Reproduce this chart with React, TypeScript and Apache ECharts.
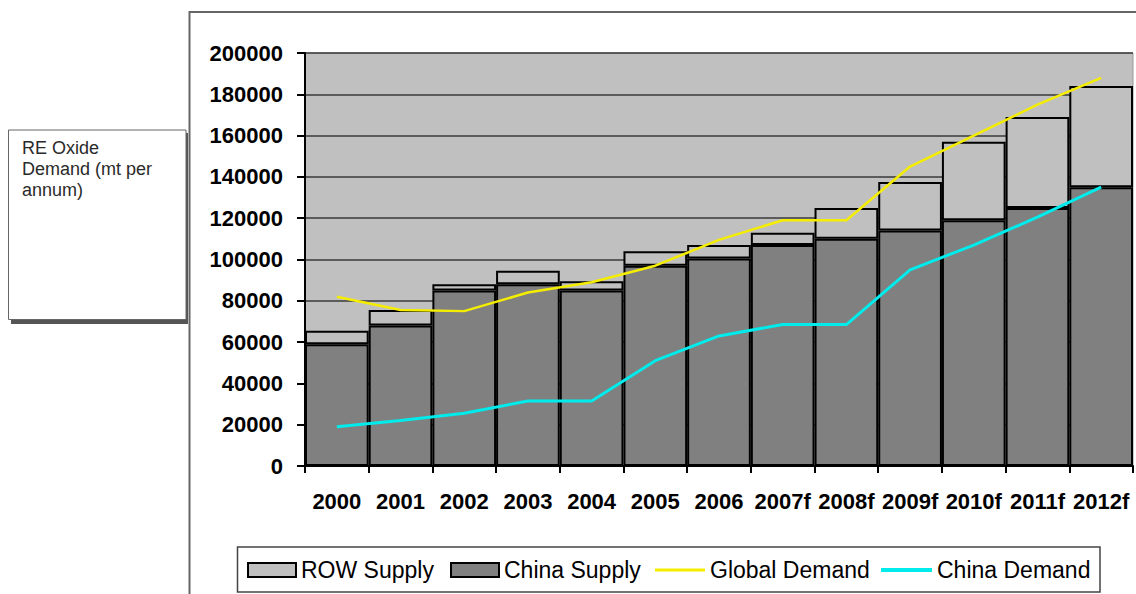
import React, { useEffect, useRef } from "react";
import * as echarts from "echarts";

const categories = ["2000", "2001", "2002", "2003", "2004", "2005", "2006", "2007f", "2008f", "2009f", "2010f", "2011f", "2012f"];
const chinaSupply = [59000, 68000, 85000, 88000, 85000, 97000, 100500, 107000, 110000, 114000, 119000, 125000, 135000];
const rowSupply = [6500, 7500, 3000, 6500, 4500, 7000, 6500, 6000, 15000, 23500, 38000, 44000, 49000];
const globalDemand = [82000, 75500, 75000, 84000, 89000, 97000, 109500, 119000, 119000, 145000, 160000, 175000, 188000];
const chinaDemand = [19000, 22000, 25500, 31500, 31500, 51000, 63000, 68500, 68500, 95000, 107000, 120500, 135000];
const yTicks = { min: 0, max: 200000, interval: 20000 };
const boxLines = "RE Oxide\nDemand (mt per\nannum)";

const FONT = "'Liberation Sans', Arial, sans-serif";

export default function App() {
  const ref = useRef<HTMLDivElement>(null);
  useEffect(() => {
    if (!ref.current) return;
    const chart = echarts.init(ref.current, undefined, { renderer: "svg" });
    const legendBase = {
      top: 558,
      padding: 0,
      icon: "rect",
      itemHeight: 14,
      itemWidth: 48,
      textStyle: { fontSize: 23, fontFamily: FONT, color: "#000", lineHeight: 24 },
      selectedMode: false,
    };
    chart.setOption({
      animation: false,
      backgroundColor: "#fff",
      textStyle: { fontFamily: FONT },
      grid: {
        left: 305,
        right: 3,
        top: 53,
        height: 413,
        show: true,
        backgroundColor: "#c0c0c0",
        borderColor: "#999",
        borderWidth: 1,
      },
      legend: [
        { ...legendBase, left: 247, data: ["ROW Supply"] },
        { ...legendBase, left: 450, data: ["China Supply"] },
        {
          ...legendBase,
          left: 655,
          itemWidth: 50,
          itemHeight: 3,
          itemStyle: { borderWidth: 0 },
          data: ["Global Demand"],
        },
        {
          ...legendBase,
          left: 881,
          itemWidth: 51,
          itemHeight: 4,
          itemStyle: { borderWidth: 0 },
          data: ["China Demand"],
        },
      ],
      xAxis: {
        type: "category",
        data: categories,
        boundaryGap: true,
        axisLine: { lineStyle: { color: "#000", width: 2 } },
        axisTick: { show: true, length: 7, lineStyle: { color: "#000", width: 2 } },
        axisLabel: {
          interval: 0,
          fontSize: 22,
          fontWeight: "bold",
          color: "#000",
          fontFamily: FONT,
          margin: 24,
        },
      },
      yAxis: {
        type: "value",
        min: yTicks.min,
        max: yTicks.max,
        interval: yTicks.interval,
        axisLine: { show: true, lineStyle: { color: "#000", width: 2 } },
        axisTick: { show: true, length: 8, lineStyle: { color: "#000", width: 2 } },
        axisLabel: {
          fontSize: 22,
          fontWeight: "bold",
          color: "#000",
          fontFamily: FONT,
          margin: 22,
          formatter: (v: number) => String(v),
        },
        splitLine: { show: true, lineStyle: { color: "#3a3a3a", width: 1.5 } },
      },
      series: [
        {
          name: "China Supply",
          type: "bar",
          stack: "supply",
          data: chinaSupply,
          barCategoryGap: "0%",
          itemStyle: { color: "#808080", borderColor: "#000", borderWidth: 2 },
        },
        {
          name: "ROW Supply",
          type: "bar",
          stack: "supply",
          data: rowSupply,
          barCategoryGap: "0%",
          itemStyle: { color: "#c0c0c0", borderColor: "#000", borderWidth: 2 },
        },
        {
          name: "Global Demand",
          type: "line",
          data: globalDemand,
          symbol: "none",
          lineStyle: { color: "#f5ed00", width: 2.5 },
          itemStyle: { color: "#f5ed00" },
          z: 5,
        },
        {
          name: "China Demand",
          type: "line",
          data: chinaDemand,
          symbol: "none",
          lineStyle: { color: "#00ebeb", width: 3 },
          itemStyle: { color: "#00ebeb" },
          z: 5,
        },
      ],
      graphic: [
        {
          type: "rect",
          z: -10,
          shape: { x: 189.5, y: 12, width: 1100, height: 700 },
          style: { fill: "none", stroke: "#666", lineWidth: 2 },
          silent: true,
        },
        {
          type: "rect",
          shape: { x: 237.5, y: 547, width: 862.5, height: 45 },
          style: { fill: "none", stroke: "#444", lineWidth: 1.5 },
          silent: true,
        },
        {
          type: "rect",
          shape: { x: 11, y: 133, width: 177, height: 191 },
          style: { fill: "#555" },
          silent: true,
        },
        {
          type: "rect",
          shape: { x: 8.5, y: 130, width: 177.5, height: 189.5 },
          style: { fill: "#fff", stroke: "#666", lineWidth: 1 },
          silent: true,
        },
        {
          type: "text",
          x: 22,
          y: 137,
          style: {
            text: boxLines,
            fontSize: 18,
            lineHeight: 21,
            fontFamily: FONT,
            fill: "#2a2a2a",
          },
          silent: true,
        },
      ],
    });
    return () => chart.dispose();
  }, []);
  return (
    <div
      ref={ref}
      style={{ position: "absolute", left: 0, top: 0, width: 1136, height: 594 }}
    />
  );
}
